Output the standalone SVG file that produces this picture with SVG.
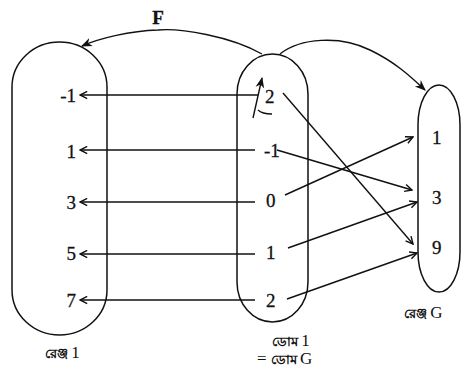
<svg xmlns="http://www.w3.org/2000/svg" width="468" height="372" viewBox="0 0 468 372">
<style>
.set{fill:none;stroke:#111;stroke-width:1.5}
.c{fill:none;stroke:#111;stroke-width:1.4}
.n{font-family:"Liberation Serif",serif;font-size:19px;fill:#111;stroke:#111;stroke-width:0.3}
.b{font-family:"Liberation Serif",serif;font-size:13px;font-weight:bold;fill:#111}
.g{font-family:"Liberation Serif",serif;font-size:17px;fill:#111}
</style>
<defs>
<marker id="ah" viewBox="0 0 10 10" refX="9" refY="5" markerWidth="9" markerHeight="9" markerUnits="userSpaceOnUse" orient="auto">
<path d="M1,1 L9,5 L1,9" fill="none" stroke="#111" stroke-width="1.6"/>
</marker>
<marker id="af" viewBox="0 0 10 10" refX="9" refY="5" markerWidth="11" markerHeight="11" markerUnits="userSpaceOnUse" orient="auto">
<path d="M0,1 L10,5 L0,9 L3,5 Z" fill="#111"/>
</marker>
</defs>
<g id="range1">
<rect class="set" x="12" y="42" width="95" height="293" rx="47.5" ry="45"/>
<text class="n" x="76" y="102" text-anchor="end">-1</text>
<text class="n" x="76" y="158" text-anchor="end">1</text>
<text class="n" x="76" y="209" text-anchor="end">3</text>
<text class="n" x="76" y="260" text-anchor="end">5</text>
<text class="n" x="76" y="307" text-anchor="end">7</text>
<text x="45" y="358"><tspan class="b">রেঞ্জ </tspan><tspan class="g">1</tspan></text>
</g>
<g id="dom">
<rect class="set" x="237" y="54" width="71" height="268" rx="35.5" ry="40"/>
<text class="n" x="265" y="103">2</text>
<text class="n" x="264" y="157">-1</text>
<text class="n" x="266" y="207">0</text>
<text class="n" x="266" y="259">1</text>
<text class="n" x="266" y="307">2</text>
<text x="272" y="346"><tspan class="b">ডোম </tspan><tspan class="g">1</tspan></text>
<text x="257" y="364"><tspan class="g">= </tspan><tspan class="b">ডোম </tspan><tspan class="g">G</tspan></text>
</g>
<g id="rangeG">
<rect class="set" x="418" y="85" width="42" height="207" rx="21" ry="40"/>
<text class="n" x="432" y="144">1</text>
<text class="n" x="432" y="204">3</text>
<text class="n" x="432" y="254">9</text>
<text x="404" y="318"><tspan class="b">রেঞ্জ </tspan><tspan class="g">G</tspan></text>
</g>
<g id="connectors">
<path class="c" d="M262,54 C230,36 180,28 158,30 C130,31 100,38 82,46" marker-end="url(#af)"/>
<text class="n" x="158" y="24" font-weight="bold" text-anchor="middle">F</text>
<path class="c" d="M280,54 C300,38 340,35 370,50 C395,62 410,76 425,90" marker-end="url(#af)"/>
<path class="c" d="M253,118 L262,78" marker-end="url(#af)"/>
<path class="c" d="M258,110 Q262,114 272,114"/>
<line class="c" x1="258" y1="95" x2="80" y2="95" marker-end="url(#ah)"/>
<line class="c" x1="255" y1="150" x2="80" y2="150" marker-end="url(#ah)"/>
<line class="c" x1="255" y1="202" x2="80" y2="202" marker-end="url(#ah)"/>
<line class="c" x1="255" y1="254" x2="80" y2="254" marker-end="url(#ah)"/>
<line class="c" x1="255" y1="300" x2="80" y2="300" marker-end="url(#ah)"/>
<line class="c" x1="283" y1="93" x2="413" y2="244" marker-end="url(#ah)"/>
<line class="c" x1="277" y1="150" x2="412" y2="190" marker-end="url(#ah)"/>
<line class="c" x1="285" y1="195" x2="413" y2="137" marker-end="url(#ah)"/>
<line class="c" x1="288" y1="248" x2="417" y2="202" marker-end="url(#ah)"/>
<line class="c" x1="287" y1="299" x2="417" y2="253" marker-end="url(#ah)"/>
</g>
</svg>
